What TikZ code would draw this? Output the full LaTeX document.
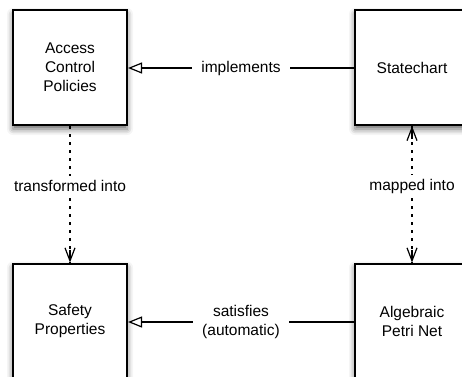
\documentclass[tikz,border=0pt]{standalone}
\usepackage{fontspec}
\setmainfont{Liberation Sans}
\usetikzlibrary{arrows.meta,shadows.blur}
\tikzset{
  block/.style={draw=black, line width=2pt, fill=white,
    minimum width=114pt, minimum height=115pt, align=center,
    font=\fontsize{15.5}{19}\selectfont,
    blur shadow={shadow xshift=0pt, shadow yshift=-4pt,
      shadow blur radius=6pt, shadow opacity=60}},
  rel/.style={line width=1.2pt, -{Triangle[open, length=14pt, width=11pt]}},
  vtip/.tip={Straight Barb[length=13pt, width=10pt]},
  mapping/.style={line width=1.2pt, dash pattern=on 2.5pt off 5.5pt},
  vhead/.style={line width=1.2pt, -vtip},
  lbl/.style={fill=white, inner xsep=9.5pt, inner ysep=4pt, align=center,
    font=\fontsize{15.5}{19}\selectfont}
}
\begin{document}
\begin{tikzpicture}[x=1pt, y=-1pt]
  \useasboundingbox (0,0) rectangle (462,376);
  \node[block] (acp) at (70,67.5) {Access\\Control\\Policies};
  \node[block] (sc)  at (412,67.5) {Statechart};
  \node[block] (sp)  at (70,321) {Safety\\Properties};
  \node[block] (apn) at (412,321) {Algebraic\\Petri Net};

  % implementation and satisfaction relations
  \draw[rel] (sc.west |- 0,68) -- node[lbl] {implements} (acp.east |- 0,68);
  \draw[rel] (apn.west |- 0,322) -- node[lbl] {satisfies\\(automatic)} (sp.east |- 0,322);

  % model transformations: dotted shafts, solid heads
  \draw[mapping] (acp.south) -- node[lbl, pos=0.44] {transformed into} (sp.north);
  \draw[vhead] ([yshift=13pt]sp.north) -- (sp.north);
  \draw[mapping] (sc.south) -- node[lbl, pos=0.44] {mapped into} (apn.north);
  \draw[vhead] ([yshift=-13pt]sc.south) -- (sc.south);
  \draw[vhead] ([yshift=13pt]apn.north) -- (apn.north);
\end{tikzpicture}
\end{document}
